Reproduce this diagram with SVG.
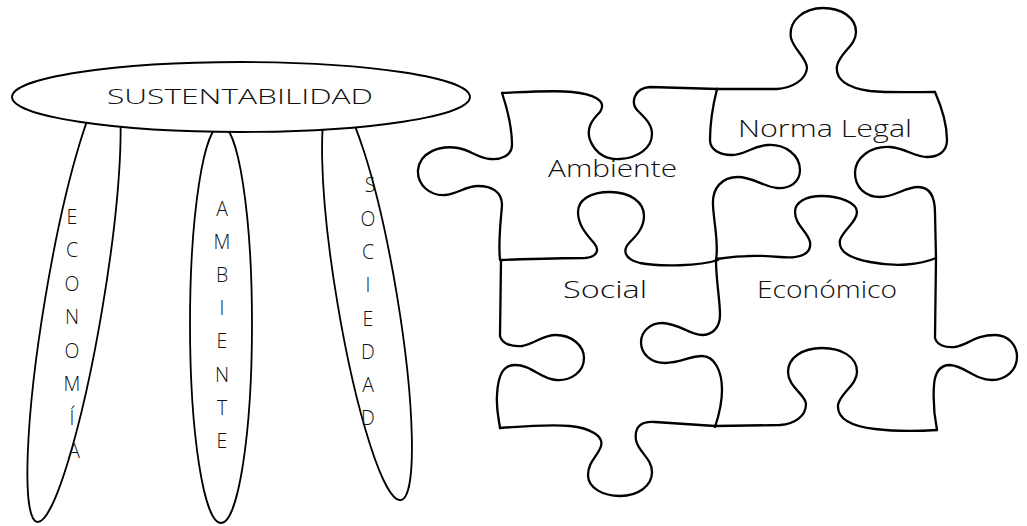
<svg xmlns="http://www.w3.org/2000/svg" width="1027" height="526" viewBox="0 0 1027 526">
<style>
.o{fill:none;stroke:#000;stroke-width:1.8;stroke-linecap:round;stroke-linejoin:round}
.p{fill:none;stroke:#000;stroke-width:2.3;stroke-linecap:round;stroke-linejoin:round}
.t{font-family:"Open Sans","DejaVu Sans",sans-serif;font-weight:300;fill:#111}
.v{font-family:"Open Sans","DejaVu Sans",sans-serif;font-weight:300;fill:#111;font-size:19.5px;text-anchor:middle}
.l{font-family:"Open Sans","DejaVu Sans",sans-serif;font-weight:300;fill:#111;font-size:24px}
</style>
<rect width="1027" height="526" fill="#fff"/>
<g id="economia">
<ellipse class="o" cx="74" cy="302" rx="29" ry="223" transform="rotate(9.5 74 302)"/>
<text class="v" x="72" y="224">E</text>
<text class="v" x="72" y="257">C</text>
<text class="v" x="72" y="291">O</text>
<text class="v" x="72" y="324">N</text>
<text class="v" x="72" y="358">O</text>
<text class="v" x="72" y="391">M</text>
<text class="v" x="72" y="425">Í</text>
<text class="v" x="74" y="458">A</text>
</g>
<g id="ambiente-pilar">
<ellipse class="o" cx="221" cy="324" rx="31" ry="199"/>
<text class="v" x="222" y="216">A</text>
<text class="v" x="222" y="249">M</text>
<text class="v" x="222" y="282">B</text>
<text class="v" x="222" y="315">I</text>
<text class="v" x="222" y="348">E</text>
<text class="v" x="222" y="382">N</text>
<text class="v" x="222" y="415">T</text>
<text class="v" x="222" y="448">E</text>
</g>
<g id="sociedad">
<ellipse class="o" cx="367" cy="298" rx="30" ry="205" transform="rotate(-9.5 367 298)"/>
<text class="v" x="370" y="192">S</text>
<text class="v" x="368" y="226">O</text>
<text class="v" x="368" y="259">C</text>
<text class="v" x="368" y="292">I</text>
<text class="v" x="368" y="326">E</text>
<text class="v" x="368" y="359">D</text>
<text class="v" x="368" y="392">A</text>
<text class="v" x="368" y="425">D</text>
</g>
<g id="sustentabilidad">
<ellipse class="o" cx="241" cy="97" rx="229" ry="35" style="fill:#fff"/>
<text class="t" x="107" y="104" font-size="21" textLength="266" lengthAdjust="spacingAndGlyphs">SUSTENTABILIDAD</text>
</g>
<g id="pieza-ambiente">
<path class="p" d="M502,93 C525,92 555,90 572,92 C592,94 608,100 600,112 C592,120 586,128 590,140 C596,155 608,160 620,159 C638,158 652,148 652,134 C652,124 645,118 638,111 C630,103 634,88 650,87 L718,89"/>
<path class="p" d="M502,93 C507,108 512,125 512,145 C512,156 500,160 490,159 C478,158 470,150 458,148 C440,145 420,152 418,170 C417,185 430,196 445,195 C458,194 465,186 478,186 C492,186 502,192 502,205 C501,220 498,240 500,260"/>
<path class="p" d="M717,89 C713,105 710,125 710,140 C710,150 720,155 732,155 C745,155 752,146 768,145 C785,144 800,155 800,170 C800,182 790,189 777,188 C765,187 752,177 738,177 C722,177 712,188 713,205 C714,225 719,243 716,260"/>
<text class="l" x="548" y="177" textLength="129" lengthAdjust="spacingAndGlyphs">Ambiente</text>
</g>
<g id="pieza-norma-legal">
<path class="p" d="M717,89 L777,89 C792,88 806,80 807,68 C807,58 794,50 791,38 C788,20 805,8 823,8 C842,8 856,18 856,32 C856,46 840,52 837,66 C835,80 848,88 870,91 C890,93 915,92 935,92"/>
<path class="p" d="M935,92 C942,108 947,125 947,140 C947,152 938,157 927,157 C915,157 905,148 890,147 C870,146 855,158 855,173 C855,188 866,197 880,197 C895,197 905,187 918,187 C930,187 935,197 935,213 L936,258"/>
<text class="l" x="738" y="137" textLength="174" lengthAdjust="spacingAndGlyphs">Norma Legal</text>
</g>
<g id="pieza-social">
<path class="p" d="M501,260 C530,259 565,258 585,258 C597,257 600,250 594,243 C585,233 578,224 578,212 C578,200 590,192 610,192 C630,192 644,202 644,216 C644,228 636,236 630,242 C622,250 624,259 640,263 C660,267 700,266 718,260"/>
<path class="p" d="M501,260 L500,336 C502,344 512,347 522,346 C535,344 542,335 556,335 C572,335 584,346 584,358 C584,372 571,381 556,380 C540,379 532,365 515,365 C503,365 498,375 497,395 C496,410 499,420 500,428"/>
<path class="p" d="M500,428 C525,426 550,424 570,426 C590,428 604,436 601,446 C598,456 588,462 588,475 C588,488 603,496 620,496 C638,496 652,486 652,472 C652,458 638,452 636,440 C634,426 642,421 655,422 L715,426"/>
<text class="l" x="563" y="298" textLength="84" lengthAdjust="spacingAndGlyphs">Social</text>
</g>
<g id="pieza-economico">
<path class="p" d="M716,259 C735,256 760,255 780,257 C800,259 812,254 810,242 C808,232 795,225 795,212 C795,202 806,196 822,196 C840,196 857,203 857,212 C857,222 843,230 840,240 C838,252 850,258 870,262 C895,267 920,265 936,258"/>
<path class="p" d="M716,260 C716,280 720,300 720,315 C720,328 712,335 702,335 C690,335 678,323 662,323 C650,323 641,332 641,342 C641,355 652,363 665,363 C680,363 690,356 702,356 C714,356 722,370 722,390 C722,405 718,418 715,427"/>
<path class="p" d="M936,258 L935,338 C937,345 945,348 955,347 C968,345 975,335 995,335 C1008,335 1017,345 1017,357 C1017,370 1006,380 992,380 C975,380 965,366 950,365 C940,365 935,372 934,385 C933,400 934,415 937,430"/>
<path class="p" d="M715,426 L780,425 C795,424 806,416 806,404 C806,395 788,387 788,372 C788,358 802,348 822,348 C842,348 857,357 857,372 C857,385 840,393 838,405 C837,418 850,426 875,429 C900,432 920,431 937,430"/>
<text class="l" x="757" y="298" textLength="140" lengthAdjust="spacingAndGlyphs">Económico</text>
</g>
</svg>
